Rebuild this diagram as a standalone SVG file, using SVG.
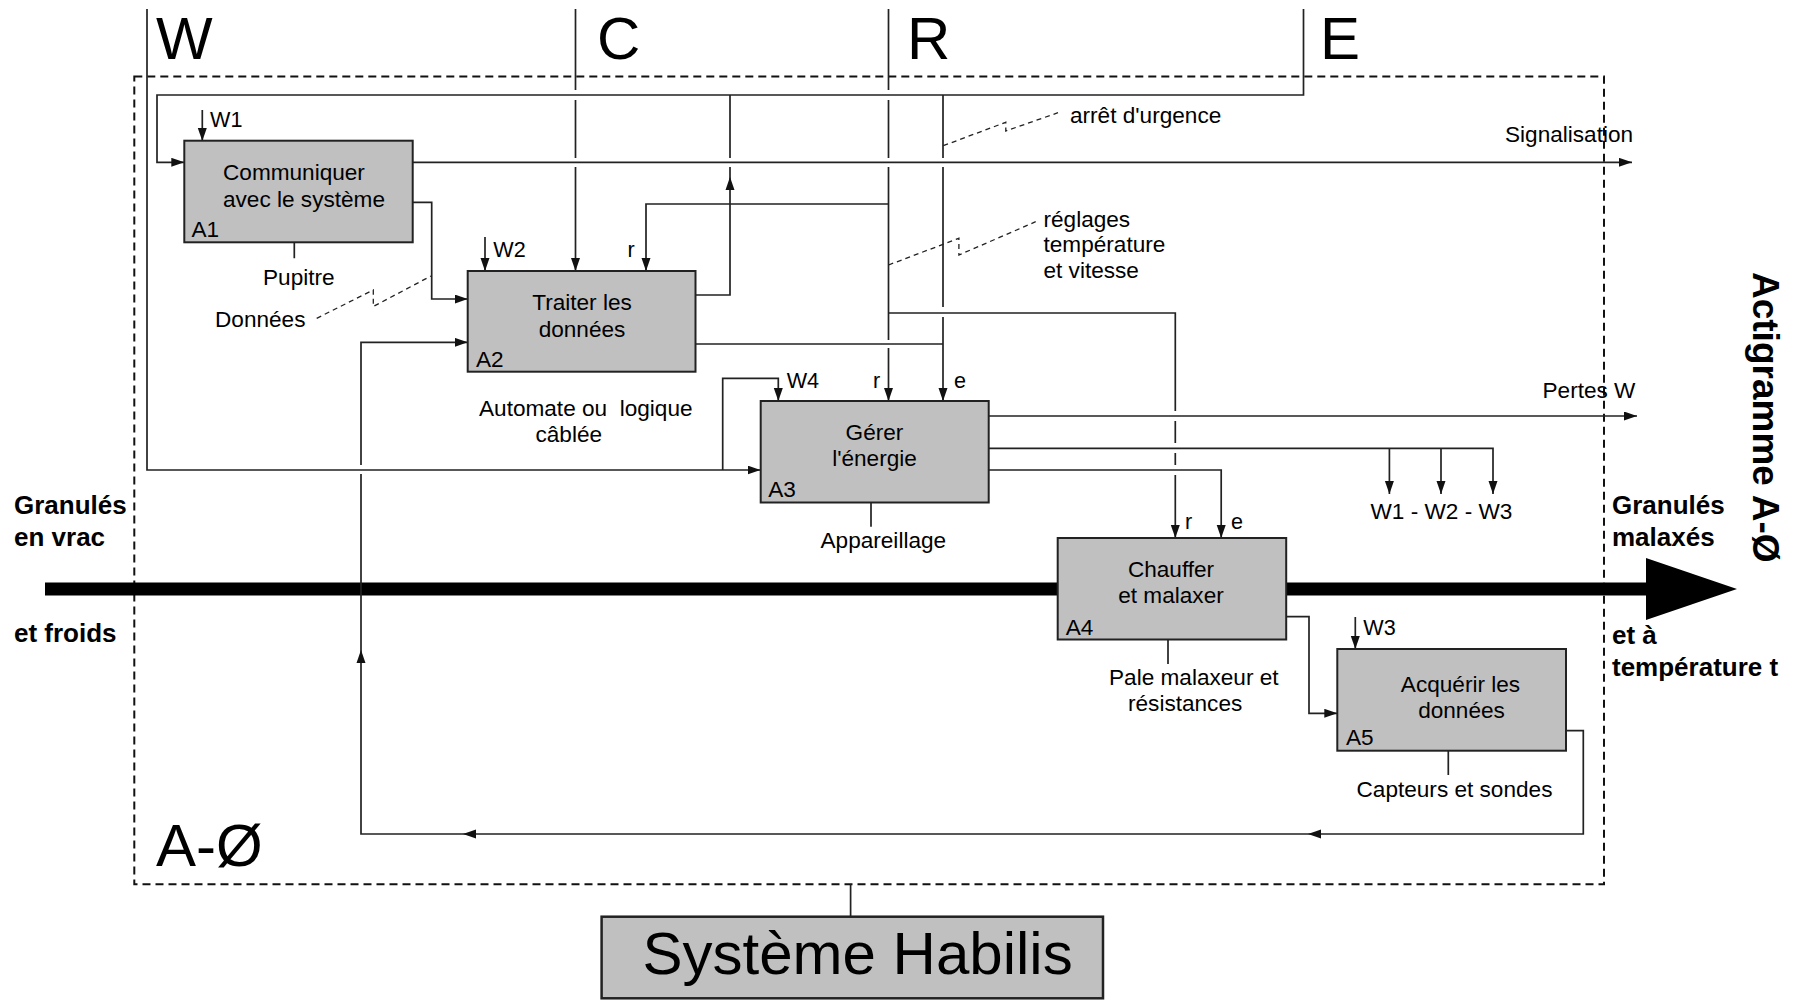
<svg xmlns="http://www.w3.org/2000/svg" width="1793" height="1000" viewBox="0 0 1793 1000">
<defs>
<marker id="ah" markerUnits="userSpaceOnUse" markerWidth="14" markerHeight="10" refX="13" refY="4.5" orient="auto">
<path d="M0,0 L13,4.5 L0,9 z" fill="#111"/>
</marker>
<style>
.ln{fill:none;stroke:#222;stroke-width:1.7}
.ar{fill:none;stroke:#222;stroke-width:1.7;marker-end:url(#ah)}
.dl{fill:none;stroke:#222;stroke-width:1.3;stroke-dasharray:5 4}
.box{fill:#c0c0c0;stroke:#222;stroke-width:2}
.t{font-family:"Liberation Sans",Arial,sans-serif;font-size:22.6px;fill:#000}
.w{font-size:21.6px}
.b{font-weight:bold;font-size:26px}
.big{font-size:60px}
.mid{text-anchor:middle}
</style>
</defs>
<rect width="1793" height="1000" fill="#fff"/>

<!-- frame -->
<g id="frame">
<rect x="134.3" y="76.5" width="1469.7" height="807.8" fill="none" stroke="#111" stroke-width="2" stroke-dasharray="8 5"/>
<text class="t big" x="156" y="866">A-Ø</text>
</g>

<!-- main flow bar -->
<g id="flow">
<rect x="45" y="582.5" width="1603" height="13" fill="#000"/>
<polygon points="1646,558 1737,589 1646,620" fill="#000"/>
<text class="t b" x="14" y="514">Granulés</text>
<text class="t b" x="14" y="546">en vrac</text>
<text class="t b" x="14" y="642">et froids</text>
<text class="t b" x="1612" y="514">Granulés</text>
<text class="t b" x="1612" y="546">malaxés</text>
<text class="t b" x="1612" y="644">et à</text>
<text class="t b" x="1612" y="676">température t</text>
<text class="t" style="font-weight:bold;font-size:37px" transform="translate(1753,272) rotate(90)">Actigramme A-Ø</text>
</g>

<g id="connectors">
<!-- W line -->
<path class="ar" d="M147,9 V470 H760.5"/>
<path class="ar" d="M722.7,470 V378.3 H778.3 V401"/>
<!-- E line -->
<path class="ar" d="M1303.5,9 V95 H157 V162.3 H184.3"/>
<!-- C line -->
<path class="ln" d="M575.5,9 V90 M575.5,100 V158"/>
<path class="ar" d="M575.5,167 V271"/>
<!-- R line -->
<path class="ln" d="M888.5,9 V90 M888.5,100 V158 M888.5,167 V340"/>
<path class="ar" d="M888.5,348 V401"/>
<path class="ar" d="M888.5,204 H646 V271"/>
<path class="ln" d="M888.5,313 H1175.3 V411 M1175.3,421 V443 M1175.3,453 V465"/>
<path class="ar" d="M1175.3,475 V538"/>
<!-- e line -->
<path class="ln" d="M943,95 V158 M943,167 V307"/>
<path class="ar" d="M943,317 V401"/>
<path class="ln" d="M695.5,344 H943"/>
<!-- A2 output up -->
<path class="ln" d="M695.5,295 H730 V167 M730,158 V95"/>
<polygon points="730,177 725.5,190 734.5,190" fill="#111"/>
<!-- A1 outputs -->
<path class="ar" d="M413,162.3 H1632"/>
<path class="ar" d="M413,202.3 H431.7 V299 H467.7"/>
<!-- feedback -->
<path class="ln" d="M1566,730.7 H1583.3 V834 H361 V474"/>
<path class="ar" d="M361,465 V342.3 H467.7"/>
<polygon points="361,650 356.5,663 365.5,663" fill="#111"/>
<polygon points="1308,834 1321,829.5 1321,838.5" fill="#111"/>
<polygon points="463,834 476,829.5 476,838.5" fill="#111"/>
<!-- A3 outputs -->
<path class="ar" d="M988.7,416 H1637"/>
<path class="ar" d="M988.7,448.3 H1493 V494"/>
<path class="ar" d="M1389.4,448.3 V494"/>
<path class="ar" d="M1441,448.3 V494"/>
<path class="ar" d="M988.7,470 H1221.2 V538"/>
<!-- A4 -> A5 -->
<path class="ar" d="M1286,616.7 H1309 V713.3 H1337.3"/>
<!-- W arrows -->
<path class="ar" d="M202.3,110 V141"/>
<path class="ar" d="M485,237 V271"/>
<path class="ar" d="M1355.3,617 V649"/>
<!-- mechanisms -->
<path class="ln" d="M294.3,242.3 V258.3 M871,502.7 V526.7 M1168,639.3 V664 M1448.3,751 V775 M850.6,884.3 V917"/>
<!-- annotation leaders -->
<path class="dl" d="M316.7,318.3 L373.3,290 V306.5 L431,276"/>
<path class="dl" d="M943.3,145.7 L1005.8,122.3 V131 L1058,112.7"/>
<path class="dl" d="M888.5,265 L958.9,238.3 V255 L1035.7,221.7"/>
</g>

<!-- ICOM headers -->
<g id="headers">
<text class="t big" x="156" y="59">W</text>
<text class="t big" x="597" y="59">C</text>
<text class="t big" x="907" y="59">R</text>
<text class="t big" x="1320" y="59">E</text>
</g>

<g id="A1">
<rect class="box" x="184.3" y="140.7" width="228.4" height="101.6"/>
<text class="t" x="223" y="180">Communiquer</text>
<text class="t" x="223" y="206.7">avec le système</text>
<text class="t" x="191.5" y="237.3">A1</text>
</g>
<g id="A2">
<rect class="box" x="467.7" y="271" width="227.8" height="100.7"/>
<text class="t mid" x="582" y="310">Traiter les</text>
<text class="t mid" x="582" y="336.7">données</text>
<text class="t" x="476" y="367">A2</text>
</g>
<g id="A3">
<rect class="box" x="760.7" y="401" width="228" height="101.5"/>
<text class="t mid" x="874.5" y="440">Gérer</text>
<text class="t mid" x="874.5" y="466">l'énergie</text>
<text class="t" x="768.3" y="496.7">A3</text>
</g>
<g id="A4">
<rect class="box" x="1057.7" y="538" width="228.5" height="101.5"/>
<text class="t mid" x="1171" y="576.7">Chauffer</text>
<text class="t mid" x="1171" y="603.3">et malaxer</text>
<text class="t" x="1065.7" y="635">A4</text>
</g>
<g id="A5">
<rect class="box" x="1337.3" y="649" width="228.7" height="101.7"/>
<text class="t mid" x="1460.5" y="691.7">Acquérir les</text>
<text class="t mid" x="1461.5" y="718.3">données</text>
<text class="t" x="1346" y="745">A5</text>
</g>
<g id="habilis">
<rect x="601.6" y="916.7" width="501.4" height="81.6" fill="#c0c0c0" stroke="#222" stroke-width="2.5"/>
<text class="t big" x="642.5" y="974">Système Habilis</text>
</g>

<g id="labels">
<text class="t w" x="210" y="126.7">W1</text>
<text class="t w" x="493.3" y="256.7">W2</text>
<text class="t w" x="786.7" y="388.3">W4</text>
<text class="t w" x="1363.3" y="635">W3</text>
<text class="t w" x="627.5" y="257">r</text>
<text class="t w" x="873" y="388">r</text>
<text class="t w" x="954" y="388">e</text>
<text class="t w" x="1185" y="528.5">r</text>
<text class="t w" x="1231" y="528.5">e</text>
<text class="t" x="263" y="284.5">Pupitre</text>
<text class="t" x="215" y="326.5">Données</text>
<text class="t" x="479" y="415.5">Automate ou&#160; logique</text>
<text class="t" x="535.5" y="441.5">câblée</text>
<text class="t" x="820.5" y="547.5">Appareillage</text>
<text class="t" x="1109" y="684.5">Pale malaxeur et</text>
<text class="t" x="1128" y="710.5">résistances</text>
<text class="t" x="1356.5" y="797">Capteurs et sondes</text>
<text class="t" x="1070" y="122.5">arrêt d'urgence</text>
<text class="t" x="1043.5" y="226.5">réglages</text>
<text class="t" x="1043.5" y="252">température</text>
<text class="t" x="1043.5" y="278">et vitesse</text>
<text class="t" x="1505" y="141.5">Signalisation</text>
<text class="t" x="1542.5" y="397.5">Pertes W</text>
<text class="t" x="1370.5" y="519">W1 - W2 - W3</text>
</g>
</svg>
